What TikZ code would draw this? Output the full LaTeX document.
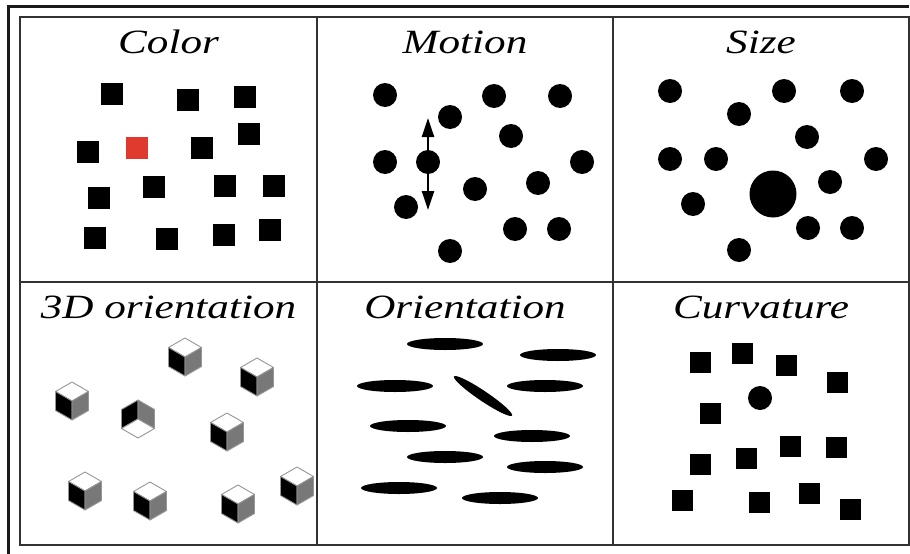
\documentclass[tikz,border=0pt]{standalone}
\usepackage{fontspec}
\usetikzlibrary{arrows.meta}
\newfontfamily\paneltitle{Liberation Serif}[FakeStretch=1.27]
\definecolor{alertred}{RGB}{224,58,46}
\definecolor{facegray}{RGB}{120,120,120}
\definecolor{edgegray}{RGB}{150,150,150}
\definecolor{rulegray}{RGB}{50,50,50}
\newcommand{\isocube}[2]{%
  \begin{scope}[shift={(#1,#2)}, draw=edgegray, line width=0.9pt, line join=round]
  \filldraw[fill=white] (0,-19) -- (16.5,-9.5) -- (0,0) -- (-16.5,-9.5) -- cycle;
  \filldraw[fill=black] (-16.5,-9.5) -- (0,0) -- (0,19) -- (-16.5,9.5) -- cycle;
  \filldraw[fill=facegray] (0,0) -- (16.5,-9.5) -- (16.5,9.5) -- (0,19) -- cycle;
  \end{scope}}
\newcommand{\hollowcube}[2]{%
  \begin{scope}[shift={(#1,#2)}, draw=edgegray, line width=0.9pt, line join=round]
  \filldraw[fill=black] (0,-19) -- (-16.5,-9.5) -- (-16.5,9.5) -- (0,0) -- cycle;
  \filldraw[fill=facegray] (0,-19) -- (0,0) -- (16.5,9.5) -- (16.5,-9.5) -- cycle;
  \filldraw[fill=white] (0,0) -- (-16.5,9.5) -- (0,19) -- (16.5,9.5) -- cycle;
  \end{scope}}

\begin{document}
\begin{tikzpicture}[x=1pt,y=-1pt,
  title/.style={anchor=base, inner sep=0pt, font=\paneltitle\itshape\fontsize{34}{38}\selectfont},
  blk/.style={fill=black, minimum size=22pt, inner sep=0pt},
  dot/.style={circle, fill=black, minimum size=24pt, inner sep=0pt}]
\useasboundingbox (0,0) rectangle (910,554);
\draw[line width=3pt, black!90, line join=miter] (8,554) -- (8,6) -- (909,6);
\draw[line width=1.8pt, rulegray] (20,17) rectangle (909,545);
\draw[line width=1.8pt, rulegray] (20,282) -- (909,282) (317,17) -- (317,545) (613,17) -- (613,545);

\node[title] (t-color) at (168.5,53) {Color};
\node[title] (t-motion) at (465,53) {Motion};
\node[title] (t-size) at (761,53) {Size};
\node[title] (t-cube) at (168.5,318) {3D orientation};
\node[title] (t-orient) at (465,318) {Orientation};
\node[title] (t-curve) at (761,318) {Curvature};

\node[blk] (c1) at (112,94) {};
\node[blk] (c2) at (188,100) {};
\node[blk] (c3) at (245,97) {};
\node[blk] (c4) at (88,152) {};
\node[blk, fill=alertred] (odd) at (137,148) {};
\node[blk] (c6) at (202,148) {};
\node[blk] (c7) at (249,134) {};
\node[blk] (c8) at (99,198) {};
\node[blk] (c9) at (154,187) {};
\node[blk] (c10) at (225,186) {};
\node[blk] (c11) at (274,186) {};
\node[blk] (c12) at (95,238) {};
\node[blk] (c13) at (167,239) {};
\node[blk] (c14) at (224,235) {};
\node[blk] (c15) at (270,230) {};

\node[dot] (m1) at (385,95) {};
\node[dot] (m2) at (494,96) {};
\node[dot] (m3) at (560,96) {};
\node[dot] (m4) at (450,117) {};
\node[dot] (m5) at (511,136) {};
\node[dot] (m6) at (385,162) {};
\node[dot] (mover) at (428,162) {};
\node[dot] (m8) at (582,162) {};
\node[dot] (m9) at (538,183) {};
\node[dot] (m10) at (475,189) {};
\node[dot] (m11) at (406,207) {};
\node[dot] (m12) at (515,229) {};
\node[dot] (m13) at (559,229) {};
\node[dot] (m14) at (450,251) {};
\coordinate (mvup) at (428,118);
\coordinate (mvdown) at (428,210);
\draw[line width=2.4pt, {Triangle[width=12pt,length=19pt]}-{Triangle[width=12pt,length=19pt]}] (mvup) -- (mvdown);

\node[dot] (s1) at (670,91) {};
\node[dot] (s2) at (784,91) {};
\node[dot] (s3) at (852,91) {};
\node[dot] (s4) at (739,114) {};
\node[dot] (s5) at (807,137) {};
\node[dot] (s6) at (670,159) {};
\node[dot] (s7) at (716,159) {};
\node[dot] (s8) at (876,159) {};
\node[dot, minimum size=47pt] (big) at (773,194) {};
\node[dot] (s10) at (830,182) {};
\node[dot] (s11) at (693,204) {};
\node[dot] (s12) at (808,228) {};
\node[dot] (s13) at (852,228) {};
\node[dot] (s14) at (739,250) {};

\isocube{185}{357}
\isocube{257}{377}
\isocube{72}{401}
\hollowcube{138}{419}
\isocube{227}{432}
\isocube{85}{491}
\isocube{150}{501}
\isocube{238}{504}
\isocube{297}{486}

\fill (445,344) ellipse [x radius=38pt, y radius=6pt];
\fill (558,355) ellipse [x radius=38pt, y radius=6pt];
\fill (395,386) ellipse [x radius=38pt, y radius=6pt];
\fill[rotate around={-34:(483,396)}] (483,396) ellipse [x radius=35pt, y radius=5pt];
\fill (545,386) ellipse [x radius=38pt, y radius=6pt];
\fill (408,426) ellipse [x radius=38pt, y radius=6pt];
\fill (532,436) ellipse [x radius=38pt, y radius=6pt];
\fill (445,457) ellipse [x radius=38pt, y radius=6pt];
\fill (545,467) ellipse [x radius=38pt, y radius=6pt];
\fill (399,488) ellipse [x radius=38pt, y radius=6pt];
\fill (500,498) ellipse [x radius=38pt, y radius=6pt];

\node[blk, minimum size=21pt] (k1) at (700,362) {};
\node[blk, minimum size=21pt] (k2) at (742,353) {};
\node[blk, minimum size=21pt] (k3) at (786,365) {};
\node[blk, minimum size=21pt] (k4) at (837,382) {};
\node[dot] (round) at (760,398) {};
\node[blk, minimum size=21pt] (k6) at (710,413) {};
\node[blk, minimum size=21pt] (k7) at (790,446) {};
\node[blk, minimum size=21pt] (k8) at (836,447) {};
\node[blk, minimum size=21pt] (k9) at (746,458) {};
\node[blk, minimum size=21pt] (k10) at (700,464) {};
\node[blk, minimum size=21pt] (k11) at (682,500) {};
\node[blk, minimum size=21pt] (k12) at (759,502) {};
\node[blk, minimum size=21pt] (k13) at (809,493) {};
\node[blk, minimum size=21pt] (k14) at (850,509) {};
\end{tikzpicture}
\end{document}
